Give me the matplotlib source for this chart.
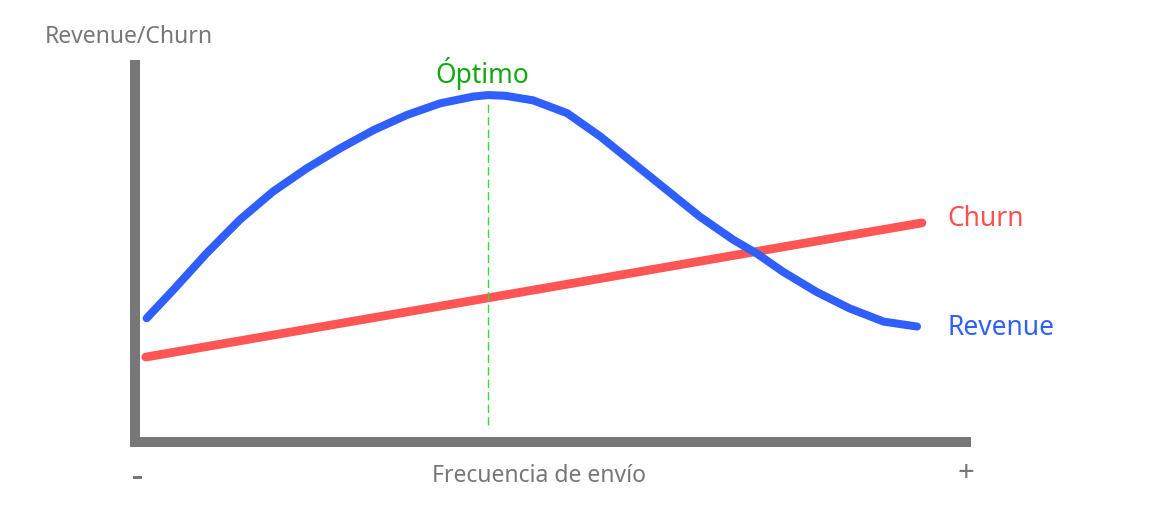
import matplotlib
matplotlib.use("Agg")
import matplotlib.pyplot as plt
from matplotlib.patches import Rectangle

# Data (normalized 0-100 scales)
revenue_x = [0.8, 4.0, 8.0, 12.0, 16.0, 20.1, 24.1, 28.1, 32.1, 36.1, 40.1, 41.9,
             44.0, 47.3, 51.4, 55.4, 59.4, 63.4, 67.4, 71.4, 74.2, 77.4, 81.4,
             85.4, 89.5, 93.5]
revenue_y = [31.5, 39.0, 48.7, 57.6, 65.1, 71.3, 76.6, 81.4, 85.4, 88.5, 90.3, 90.7,
             90.5, 89.3, 85.9, 79.7, 72.6, 65.5, 58.4, 52.3, 48.7, 43.8, 38.5,
             34.1, 30.6, 29.3]
churn_x = [0.7, 94.1]
churn_y = [21.2, 56.8]
optimo_x = 41.9
optimo_y_range = [3.2, 89.5]

labels = {"y": "Revenue/Churn", "x": "Frecuencia de envío", "opt": "Óptimo",
          "churn": "Churn", "revenue": "Revenue", "minus": "-", "plus": "+"}

W, H = 1152, 509
plt.rcParams['font.family'] = ['Noto Sans', 'DejaVu Sans']
fig = plt.figure(figsize=(W / 100, H / 100), dpi=100)

def fx(px):
    return px / W

def fy(py):
    return (H - py) / H

ax = fig.add_axes([fx(140), fy(437), (971 - 140) / W, (437 - 60) / H])
ax.set_xlim(0, 100)
ax.set_ylim(0, 100)
ax.axis("off")

gray = "#777777"
fig.add_artist(Rectangle((fx(130), fy(447)), 10 / W, 387 / H, transform=fig.transFigure,
                         color=gray, lw=0))
fig.add_artist(Rectangle((fx(130), fy(447)), 841 / W, 10 / H, transform=fig.transFigure,
                         color=gray, lw=0))

ax.plot(churn_x, churn_y, color="#ff5555", lw=6.3, solid_capstyle="round", clip_on=False)
ax.plot(revenue_x, revenue_y, color="#2f5fff", lw=5.8, solid_capstyle="round",
        solid_joinstyle="round", clip_on=False)
ax.plot([optimo_x, optimo_x], optimo_y_range, color="#33dd33", lw=1.0,
        dashes=(6, 3), clip_on=False)

fw = "medium"
fig.text(fx(45), fy(37), labels["y"], color=gray, fontsize=16.5, ha="left", va="center",
         fontweight=fw)
fig.text(fx(482), fy(74), labels["opt"], color="#12a812", fontsize=19, ha="center",
         va="center", fontweight=fw)
fig.text(fx(947), fy(219), labels["churn"], color="#ff5050", fontsize=19, ha="left",
         va="center", fontweight=fw)
fig.text(fx(947), fy(328), labels["revenue"], color="#2f5fff", fontsize=19, ha="left",
         va="center", fontweight=fw)
fig.text(fx(539), fy(476), labels["x"], color=gray, fontsize=16.5, ha="center",
         va="center", fontweight=fw)
fig.add_artist(Rectangle((fx(133), fy(479)), 9 / W, 3 / H, transform=fig.transFigure,
                         color=gray, lw=0))
fig.text(fx(966), fy(473), labels["plus"], color=gray, fontsize=21, ha="center",
         va="center", fontweight=fw)

fig.savefig("out.png", dpi=100, facecolor="white")
